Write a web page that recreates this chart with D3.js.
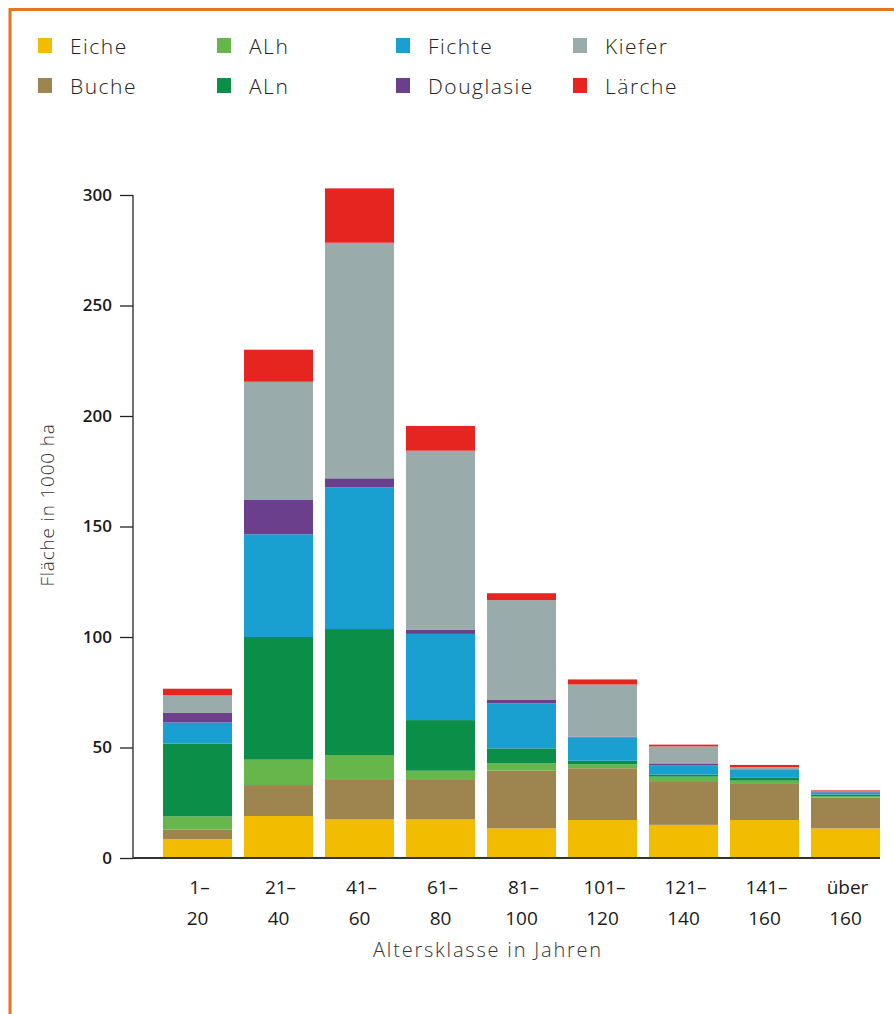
<!DOCTYPE html>
<html>
<head>
<meta charset="utf-8">
<script src="https://cdn.jsdelivr.net/npm/d3@7"></script>
<style>
  html, body { margin: 0; padding: 0; background: #fff; }
  svg { display: block; }
  text { font-family: "Open Sans", "Noto Sans", sans-serif; }
</style>
</head>
<body>
<svg id="chart" width="894" height="1014"></svg>
<script>
const categories = [["1–","20"],["21–","40"],["41–","60"],["61–","80"],["81–","100"],["101–","120"],["121–","140"],["141–","160"],["über","160"]];
const species = ["Eiche","Buche","ALh","ALn","Fichte","Douglasie","Kiefer","Lärche"];
const colors = ["#f2bd00","#9e8550","#67b64c","#0b8e47","#1a9fd1","#6c3f8d","#9aabab","#e62420"];
const legendOrder = ["Eiche","Buche","ALh","ALn","Fichte","Douglasie","Kiefer","Lärche"];
const eiche     = [8.5, 19.0, 17.5, 17.5, 13.4, 17.2, 15.0, 17.2, 13.4];
const buche     = [4.3, 14.0, 17.8, 17.8, 26.1, 23.4, 19.8, 16.3, 13.9];
const alh       = [6.0, 11.5, 11.3, 4.2, 3.3, 1.8, 2.0, 1.5, 0.7];
const aln       = [33.0, 55.5, 57.0, 22.9, 6.8, 1.6, 1.0, 1.5, 0.7];
const fichte    = [9.5, 46.5, 64.2, 39.0, 20.4, 10.6, 4.2, 3.3, 1.0];
const douglasie = [4.3, 15.5, 4.0, 1.8, 1.5, 0.3, 0.8, 0.3, 0.2];
const kiefer    = [8.0, 53.5, 106.6, 81.1, 45.2, 23.6, 7.7, 1.0, 0.2];
const laerche   = [3.0, 14.5, 24.6, 11.2, 3.1, 2.3, 0.8, 1.0, 0.5];
const yTicks = [0, 50, 100, 150, 200, 250, 300];

const series = [eiche, buche, alh, aln, fichte, douglasie, kiefer, laerche];
const rows = categories.map((c, i) => {
  const r = { key: c.join(" ") };
  species.forEach((s, j) => r[s] = series[j][i]);
  return r;
});

const svg = d3.select("#chart");
const color = d3.scaleOrdinal().domain(species).range(colors);

// frame
svg.append("path").attr("d", "M10,1014 L10,9.5 L894,9.5").attr("fill","none")
  .attr("stroke","#e8731e").attr("stroke-width",3);

const x = d3.scaleBand().domain(rows.map(d => d.key)).range([157, 886]).paddingInner(0.148).paddingOuter(0.074);
const y = d3.scaleLinear().domain([0, 300]).range([858, 195]);

const stack = d3.stack().keys(species)(rows);
svg.append("g").selectAll("g").data(stack).join("g")
  .attr("fill", d => color(d.key))
  .selectAll("rect").data(d => d).join("rect")
  .attr("x", d => x(d.data.key))
  .attr("width", x.bandwidth())
  .attr("y", d => y(d[1]))
  .attr("height", d => Math.max(0, y(d[0]) - y(d[1])));

// y axis
const yAxis = d3.axisLeft(y).tickValues(yTicks).tickSize(13).tickPadding(8);
const gy = svg.append("g").attr("transform","translate(133,0)").call(yAxis);
gy.select(".domain").attr("stroke","#222").attr("stroke-width",1.3).attr("d","M0,195V858");
gy.selectAll(".tick line").attr("stroke","#222").attr("stroke-width",1.3);
gy.selectAll(".tick text").attr("font-size",17).attr("font-weight",600).attr("fill","#1a1a1a")
  .attr("font-family","'Open Sans', sans-serif");

// x baseline
const xAxis = d3.axisBottom(x).tickSize(0).tickFormat("");
const gx = svg.append("g").attr("transform","translate(0,858)").call(xAxis);
gx.select(".domain").attr("stroke","#333").attr("stroke-width",2).attr("d","M133,0H880");

// x labels
const lab = svg.append("g").selectAll("text").data(rows).join("text")
  .attr("text-anchor","middle").attr("font-size",19).attr("fill","#1a1a1a")
  .attr("font-family","'Open Sans', sans-serif");
lab.append("tspan").attr("x", d => x(d.key) + x.bandwidth()/2 + 2).attr("y", 894)
  .text((d,i) => categories[i][0]);
lab.append("tspan").attr("x", d => x(d.key) + x.bandwidth()/2).attr("y", 925)
  .text((d,i) => categories[i][1]);

// axis titles
svg.append("text").attr("x", 488).attr("y", 957).attr("text-anchor","middle")
  .attr("font-size",20).attr("fill","#333").attr("font-weight",300)
  .attr("letter-spacing", 1.8)
  .text("Altersklasse in Jahren");
svg.append("text").attr("transform","translate(54,505) rotate(-90)").attr("text-anchor","middle")
  .attr("font-size",19).attr("fill","#333").attr("font-weight",300)
  .attr("letter-spacing", 0.8)
  .text("Fläche in 1000 ha");

// legend
const legendPos = {
  "Eiche":[38,46], "Buche":[38,86], "ALh":[217,46], "ALn":[217,86],
  "Fichte":[396,46], "Douglasie":[396,86], "Kiefer":[573,46], "Lärche":[573,86]
};
const lg = svg.append("g").selectAll("g").data(legendOrder).join("g")
  .attr("transform", d => `translate(${legendPos[d][0]},${legendPos[d][1]})`);
lg.append("rect").attr("x",0).attr("y",-8).attr("width",14).attr("height",15).attr("fill", d => color(d));
lg.append("text").attr("x",32).attr("y",8).attr("font-size",21).attr("fill","#222").attr("font-weight",300)
  .attr("letter-spacing", 1.5)
  .text(d => d);
</script>
</body>
</html>
